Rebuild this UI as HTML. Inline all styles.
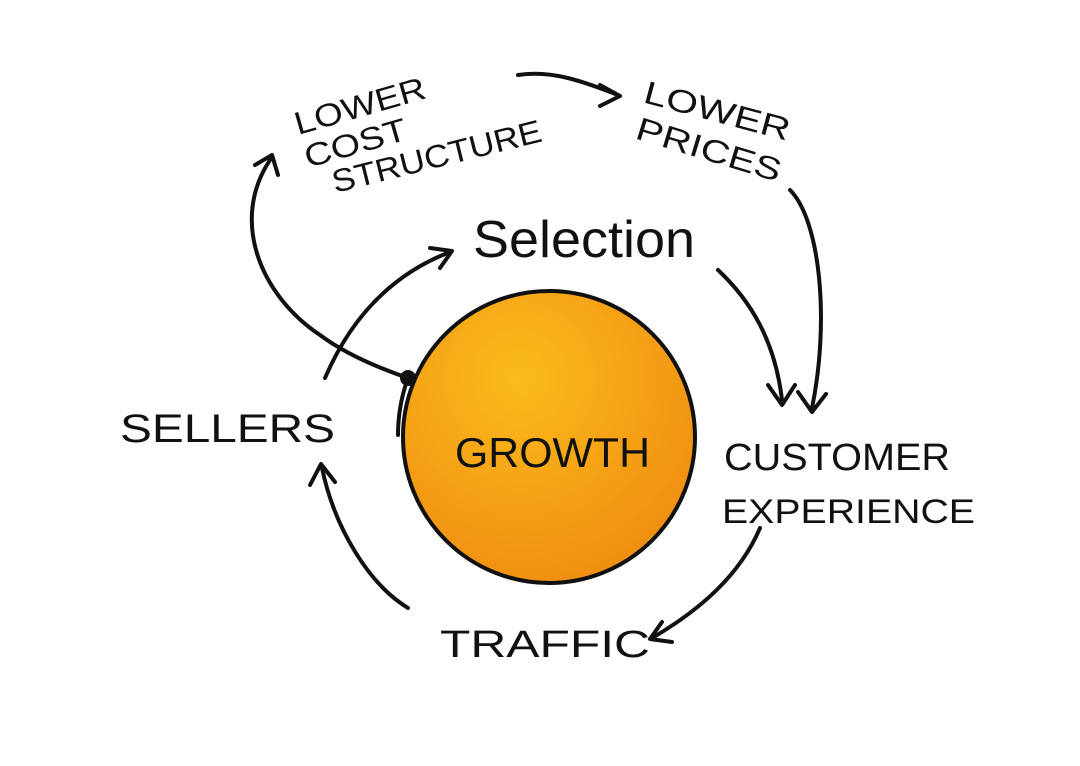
<!DOCTYPE html>
<html><head><meta charset="utf-8"><style>
html,body{margin:0;padding:0;background:#fff;}
svg{display:block;}
text{font-family:"Liberation Sans",sans-serif;fill:#111;}
</style></head><body>
<svg width="1080" height="766" viewBox="0 0 1080 766" xmlns="http://www.w3.org/2000/svg">
<defs>
<radialGradient id="g" cx="0.4" cy="0.3" r="0.8">
<stop offset="0" stop-color="#fbbb1c"/>
<stop offset="1" stop-color="#ef8a10"/>
</radialGradient>
</defs>
<rect width="1080" height="766" fill="#fff"/>
<circle cx="549" cy="437" r="146" fill="url(#g)" stroke="#111" stroke-width="4"/>
<g fill="none" stroke="#111" stroke-width="4" stroke-linecap="round" stroke-linejoin="round">
<path d="M325 378 C350 320 390 275 450 252"/>
<path d="M430 248 L452 251 L440 268"/>
<path d="M408 378 C370 365 340 350 320 335 C260 295 230 220 270 160"/>
<path d="M255 165 L272 155 L278 175"/>
<circle cx="408" cy="378" r="6" fill="#111"/>
<path d="M408 378 C400 400 398 420 398 435"/>
<path d="M518 75 C550 70 580 80 618 95"/>
<path d="M600 85 L620 96 L600 106"/>
<path d="M718 270 C750 300 775 340 782 400"/>
<path d="M768 385 L782 405 L795 385"/>
<path d="M790 190 C820 220 830 320 812 408"/>
<path d="M798 392 L812 412 L826 394"/>
<path d="M760 528 C740 575 700 610 652 638"/>
<path d="M662 622 L650 639 L672 642"/>
<path d="M408 608 C370 585 335 530 322 468"/>
<path d="M310 485 L321 464 L335 482"/>
</g>
<g transform="translate(298,135) rotate(-16)"><text font-size="32" textLength="135" lengthAdjust="spacingAndGlyphs">LOWER</text></g>
<g transform="translate(308,168) rotate(-16)"><text font-size="32" textLength="105" lengthAdjust="spacingAndGlyphs">COST</text></g>
<g transform="translate(335,193) rotate(-14)"><text font-size="32" textLength="215" lengthAdjust="spacingAndGlyphs">STRUCTURE</text></g>
<g transform="translate(642,102) rotate(15)"><text font-size="32" textLength="150" lengthAdjust="spacingAndGlyphs">LOWER</text></g>
<g transform="translate(634,138) rotate(17)"><text font-size="32" textLength="150" lengthAdjust="spacingAndGlyphs">PRICES</text></g>
<text x="473" y="257" font-size="52" textLength="222" lengthAdjust="spacingAndGlyphs">Selection</text>
<text x="120" y="442" font-size="40" textLength="215" lengthAdjust="spacingAndGlyphs">SELLERS</text>
<text x="455" y="467" font-size="42" textLength="195" lengthAdjust="spacingAndGlyphs">GROWTH</text>
<text x="724" y="470" font-size="38" textLength="226" lengthAdjust="spacingAndGlyphs">CUSTOMER</text>
<text x="722" y="523" font-size="34" textLength="253" lengthAdjust="spacingAndGlyphs">EXPERIENCE</text>
<text x="440" y="657" font-size="38" textLength="210" lengthAdjust="spacingAndGlyphs">TRAFFIC</text>
</svg>
</body></html>
